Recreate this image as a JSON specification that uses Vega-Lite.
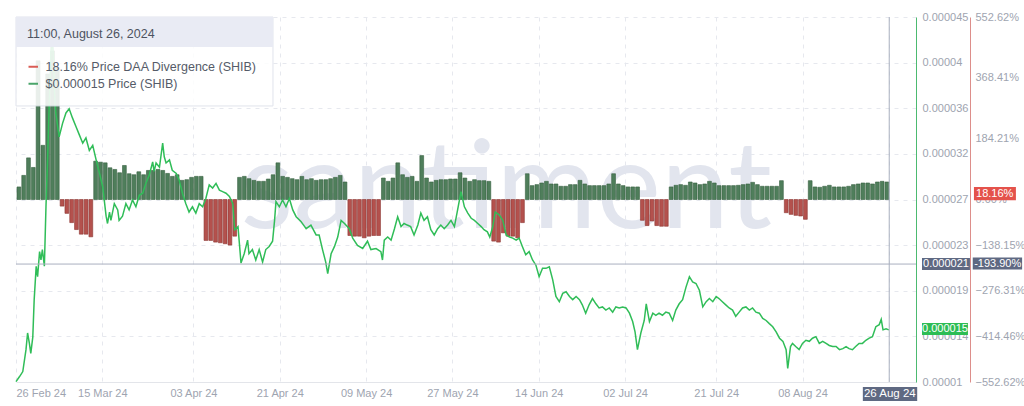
{
  "$schema": "https://vega.github.io/schema/vega-lite/v6.json",
  "autosize": {"type": "none"},
  "width": 900,
  "height": 365,
  "padding": {"left": 16, "top": 17, "right": 108, "bottom": 24},
  "background": "#ffffff",
  "config": {
    "view": {"stroke": null},
    "font": "Liberation Sans",
    "axis": {"labelFont": "Liberation Sans", "labelFontSize": 11, "labelColor": "#9ea4b0", "ticks": false, "gridColor": "#e6e8ee", "gridDash": [4, 5], "gridWidth": 1, "labelOverlap": false}
  },
  "datasets": {
    "divergence": [
      {"date": "2024-02-26T00:00", "v": 38}, {"date": "2024-02-27T00:00", "v": 73}, {"date": "2024-02-28T00:00", "v": 126}, {"date": "2024-02-29T00:00", "v": 97},
      {"date": "2024-03-01T00:00", "v": 420}, {"date": "2024-03-02T00:00", "v": 164}, {"date": "2024-03-03T00:00", "v": 380}, {"date": "2024-03-04T00:00", "v": 450},
      {"date": "2024-03-05T00:00", "v": 400}, {"date": "2024-03-06T00:00", "v": -20}, {"date": "2024-03-07T00:00", "v": -42}, {"date": "2024-03-08T00:00", "v": -70},
      {"date": "2024-03-09T00:00", "v": -91}, {"date": "2024-03-10T00:00", "v": -105}, {"date": "2024-03-11T00:00", "v": -105}, {"date": "2024-03-12T00:00", "v": -113},
      {"date": "2024-03-13T00:00", "v": 116}, {"date": "2024-03-14T00:00", "v": 113}, {"date": "2024-03-15T00:00", "v": 111}, {"date": "2024-03-16T00:00", "v": 96},
      {"date": "2024-03-17T00:00", "v": 91}, {"date": "2024-03-18T00:00", "v": 81}, {"date": "2024-03-19T00:00", "v": 103}, {"date": "2024-03-20T00:00", "v": 78},
      {"date": "2024-03-21T00:00", "v": 75}, {"date": "2024-03-22T00:00", "v": 84}, {"date": "2024-03-23T00:00", "v": 75}, {"date": "2024-03-24T00:00", "v": 88},
      {"date": "2024-03-25T00:00", "v": 88}, {"date": "2024-03-26T00:00", "v": 91}, {"date": "2024-03-27T00:00", "v": 88}, {"date": "2024-03-28T00:00", "v": 79},
      {"date": "2024-03-29T00:00", "v": 70}, {"date": "2024-03-30T00:00", "v": 75}, {"date": "2024-03-31T00:00", "v": 58}, {"date": "2024-04-01T00:00", "v": 60},
      {"date": "2024-04-02T00:00", "v": 67}, {"date": "2024-04-03T00:00", "v": 70}, {"date": "2024-04-04T00:00", "v": 70}, {"date": "2024-04-05T00:00", "v": -124},
      {"date": "2024-04-06T00:00", "v": -124}, {"date": "2024-04-07T00:00", "v": -129}, {"date": "2024-04-08T00:00", "v": -131}, {"date": "2024-04-09T00:00", "v": -134},
      {"date": "2024-04-10T00:00", "v": -138}, {"date": "2024-04-11T00:00", "v": -111}, {"date": "2024-04-12T00:00", "v": 67}, {"date": "2024-04-13T00:00", "v": 70},
      {"date": "2024-04-14T00:00", "v": 63}, {"date": "2024-04-15T00:00", "v": 58}, {"date": "2024-04-16T00:00", "v": 55}, {"date": "2024-04-17T00:00", "v": 55},
      {"date": "2024-04-18T00:00", "v": 62}, {"date": "2024-04-19T00:00", "v": 75}, {"date": "2024-04-20T00:00", "v": 111}, {"date": "2024-04-21T00:00", "v": 70},
      {"date": "2024-04-22T00:00", "v": 67}, {"date": "2024-04-23T00:00", "v": 63}, {"date": "2024-04-24T00:00", "v": 60}, {"date": "2024-04-25T00:00", "v": 70},
      {"date": "2024-04-26T00:00", "v": 60}, {"date": "2024-04-27T00:00", "v": 63}, {"date": "2024-04-28T00:00", "v": 58}, {"date": "2024-04-29T00:00", "v": 60},
      {"date": "2024-04-30T00:00", "v": 60}, {"date": "2024-05-01T00:00", "v": 63}, {"date": "2024-05-02T00:00", "v": 67}, {"date": "2024-05-03T00:00", "v": 73},
      {"date": "2024-05-04T00:00", "v": 53}, {"date": "2024-05-05T00:00", "v": -109}, {"date": "2024-05-06T00:00", "v": -111}, {"date": "2024-05-07T00:00", "v": -111},
      {"date": "2024-05-08T00:00", "v": -116}, {"date": "2024-05-09T00:00", "v": -111}, {"date": "2024-05-10T00:00", "v": -109}, {"date": "2024-05-11T00:00", "v": -109},
      {"date": "2024-05-12T00:00", "v": 65}, {"date": "2024-05-13T00:00", "v": 55}, {"date": "2024-05-14T00:00", "v": 65}, {"date": "2024-05-15T00:00", "v": 111},
      {"date": "2024-05-16T00:00", "v": 75}, {"date": "2024-05-17T00:00", "v": 67}, {"date": "2024-05-18T00:00", "v": 70}, {"date": "2024-05-19T00:00", "v": 55},
      {"date": "2024-05-20T00:00", "v": 133}, {"date": "2024-05-21T00:00", "v": 65}, {"date": "2024-05-22T00:00", "v": 53}, {"date": "2024-05-23T00:00", "v": 58},
      {"date": "2024-05-24T00:00", "v": 60}, {"date": "2024-05-25T00:00", "v": 60}, {"date": "2024-05-26T00:00", "v": 62}, {"date": "2024-05-27T00:00", "v": 62},
      {"date": "2024-05-28T00:00", "v": 81}, {"date": "2024-05-29T00:00", "v": 65}, {"date": "2024-05-30T00:00", "v": 55}, {"date": "2024-05-31T00:00", "v": 60},
      {"date": "2024-06-01T00:00", "v": 57}, {"date": "2024-06-02T00:00", "v": 57}, {"date": "2024-06-03T00:00", "v": 55}, {"date": "2024-06-04T00:00", "v": -126},
      {"date": "2024-06-05T00:00", "v": -129}, {"date": "2024-06-06T00:00", "v": -101}, {"date": "2024-06-07T00:00", "v": -111}, {"date": "2024-06-08T00:00", "v": -111},
      {"date": "2024-06-09T00:00", "v": -116}, {"date": "2024-06-10T00:00", "v": -70}, {"date": "2024-06-11T00:00", "v": 78}, {"date": "2024-06-12T00:00", "v": 42},
      {"date": "2024-06-13T00:00", "v": 45}, {"date": "2024-06-14T00:00", "v": 50}, {"date": "2024-06-15T00:00", "v": 55}, {"date": "2024-06-16T00:00", "v": 47},
      {"date": "2024-06-17T00:00", "v": 47}, {"date": "2024-06-18T00:00", "v": 40}, {"date": "2024-06-19T00:00", "v": 40}, {"date": "2024-06-20T00:00", "v": 45},
      {"date": "2024-06-21T00:00", "v": 45}, {"date": "2024-06-22T00:00", "v": 58}, {"date": "2024-06-23T00:00", "v": 47}, {"date": "2024-06-24T00:00", "v": 42},
      {"date": "2024-06-25T00:00", "v": 42}, {"date": "2024-06-26T00:00", "v": 42}, {"date": "2024-06-27T00:00", "v": 42}, {"date": "2024-06-28T00:00", "v": 47},
      {"date": "2024-06-29T00:00", "v": 78}, {"date": "2024-06-30T00:00", "v": 47}, {"date": "2024-07-01T00:00", "v": 42}, {"date": "2024-07-02T00:00", "v": 38},
      {"date": "2024-07-03T00:00", "v": 38}, {"date": "2024-07-04T00:00", "v": 38}, {"date": "2024-07-05T00:00", "v": -63}, {"date": "2024-07-06T00:00", "v": -79},
      {"date": "2024-07-07T00:00", "v": -65}, {"date": "2024-07-08T00:00", "v": -79}, {"date": "2024-07-09T00:00", "v": -81}, {"date": "2024-07-10T00:00", "v": -81},
      {"date": "2024-07-11T00:00", "v": 38}, {"date": "2024-07-12T00:00", "v": 43}, {"date": "2024-07-13T00:00", "v": 45}, {"date": "2024-07-14T00:00", "v": 43},
      {"date": "2024-07-15T00:00", "v": 53}, {"date": "2024-07-16T00:00", "v": 50}, {"date": "2024-07-17T00:00", "v": 45}, {"date": "2024-07-18T00:00", "v": 47},
      {"date": "2024-07-19T00:00", "v": 55}, {"date": "2024-07-20T00:00", "v": 50}, {"date": "2024-07-21T00:00", "v": 42}, {"date": "2024-07-22T00:00", "v": 42},
      {"date": "2024-07-23T00:00", "v": 42}, {"date": "2024-07-24T00:00", "v": 42}, {"date": "2024-07-25T00:00", "v": 43}, {"date": "2024-07-26T00:00", "v": 45},
      {"date": "2024-07-27T00:00", "v": 47}, {"date": "2024-07-28T00:00", "v": 52}, {"date": "2024-07-29T00:00", "v": 45}, {"date": "2024-07-30T00:00", "v": 40},
      {"date": "2024-07-31T00:00", "v": 40}, {"date": "2024-08-01T00:00", "v": 40}, {"date": "2024-08-02T00:00", "v": 40}, {"date": "2024-08-03T00:00", "v": 57},
      {"date": "2024-08-04T00:00", "v": -40}, {"date": "2024-08-05T00:00", "v": -45}, {"date": "2024-08-06T00:00", "v": -48}, {"date": "2024-08-07T00:00", "v": -50},
      {"date": "2024-08-08T00:00", "v": -60}, {"date": "2024-08-09T00:00", "v": 57}, {"date": "2024-08-10T00:00", "v": 38}, {"date": "2024-08-11T00:00", "v": 37},
      {"date": "2024-08-12T00:00", "v": 40}, {"date": "2024-08-13T00:00", "v": 43}, {"date": "2024-08-14T00:00", "v": 38}, {"date": "2024-08-15T00:00", "v": 38},
      {"date": "2024-08-16T00:00", "v": 38}, {"date": "2024-08-17T00:00", "v": 40}, {"date": "2024-08-18T00:00", "v": 45}, {"date": "2024-08-19T00:00", "v": 47},
      {"date": "2024-08-20T00:00", "v": 50}, {"date": "2024-08-21T00:00", "v": 50}, {"date": "2024-08-22T00:00", "v": 47}, {"date": "2024-08-23T00:00", "v": 53},
      {"date": "2024-08-24T00:00", "v": 55}, {"date": "2024-08-25T00:00", "v": 53}
    ],
    "price": [
      {"t": "2024-02-26T00:00", "p": 0.00001003}, {"t": "2024-02-26T17:00", "p": 0.0000105}, {"t": "2024-02-27T10:00", "p": 0.000011}, {"t": "2024-02-28T02:00", "p": 0.0000131},
      {"t": "2024-02-28T10:00", "p": 0.0000147}, {"t": "2024-02-28T19:00", "p": 0.0000137}, {"t": "2024-02-29T02:00", "p": 0.00001275}, {"t": "2024-02-29T12:00", "p": 0.0000143},
      {"t": "2024-02-29T19:00", "p": 0.0000179}, {"t": "2024-03-01T05:00", "p": 0.0000211}, {"t": "2024-03-01T12:00", "p": 0.0000201}, {"t": "2024-03-01T22:00", "p": 0.0000225},
      {"t": "2024-03-02T05:00", "p": 0.0000217}, {"t": "2024-03-02T12:00", "p": 0.0000227}, {"t": "2024-03-02T22:00", "p": 0.0000211}, {"t": "2024-03-03T06:00", "p": 0.0000268},
      {"t": "2024-03-03T14:00", "p": 0.0000313}, {"t": "2024-03-03T22:00", "p": 0.0000364}, {"t": "2024-03-04T05:00", "p": 0.0000405}, {"t": "2024-03-04T12:00", "p": 0.000044},
      {"t": "2024-03-04T19:00", "p": 0.000041}, {"t": "2024-03-05T00:00", "p": 0.000038}, {"t": "2024-03-05T07:00", "p": 0.0000358}, {"t": "2024-03-06T00:00", "p": 0.0000335},
      {"t": "2024-03-06T17:00", "p": 0.0000348}, {"t": "2024-03-07T10:00", "p": 0.0000358}, {"t": "2024-03-08T02:00", "p": 0.0000362}, {"t": "2024-03-08T19:00", "p": 0.0000353},
      {"t": "2024-03-09T12:00", "p": 0.0000345}, {"t": "2024-03-10T05:00", "p": 0.0000337}, {"t": "2024-03-10T22:00", "p": 0.0000329}, {"t": "2024-03-11T14:00", "p": 0.0000334},
      {"t": "2024-03-12T07:00", "p": 0.0000322}, {"t": "2024-03-13T00:00", "p": 0.0000327}, {"t": "2024-03-13T17:00", "p": 0.0000313}, {"t": "2024-03-14T10:00", "p": 0.00003},
      {"t": "2024-03-15T02:00", "p": 0.0000287}, {"t": "2024-03-15T19:00", "p": 0.0000259}, {"t": "2024-03-16T02:00", "p": 0.0000252}, {"t": "2024-03-16T12:00", "p": 0.0000263},
      {"t": "2024-03-16T19:00", "p": 0.0000255}, {"t": "2024-03-17T12:00", "p": 0.0000271}, {"t": "2024-03-18T05:00", "p": 0.0000265}, {"t": "2024-03-18T12:00", "p": 0.0000255},
      {"t": "2024-03-19T05:00", "p": 0.0000259}, {"t": "2024-03-19T22:00", "p": 0.0000271}, {"t": "2024-03-20T14:00", "p": 0.0000265}, {"t": "2024-03-21T07:00", "p": 0.00002745},
      {"t": "2024-03-22T00:00", "p": 0.0000268}, {"t": "2024-03-22T17:00", "p": 0.0000279}, {"t": "2024-03-23T10:00", "p": 0.0000281}, {"t": "2024-03-24T02:00", "p": 0.00002905},
      {"t": "2024-03-24T19:00", "p": 0.00002985}, {"t": "2024-03-25T12:00", "p": 0.0000311}, {"t": "2024-03-25T19:00", "p": 0.0000302}, {"t": "2024-03-26T05:00", "p": 0.000031},
      {"t": "2024-03-26T22:00", "p": 0.0000306}, {"t": "2024-03-27T14:00", "p": 0.0000329}, {"t": "2024-03-27T22:00", "p": 0.0000316}, {"t": "2024-03-28T07:00", "p": 0.000031},
      {"t": "2024-03-29T00:00", "p": 0.0000313}, {"t": "2024-03-29T14:00", "p": 0.0000303}, {"t": "2024-03-30T10:00", "p": 0.00003}, {"t": "2024-03-31T00:00", "p": 0.0000294},
      {"t": "2024-03-31T17:00", "p": 0.0000281}, {"t": "2024-04-01T10:00", "p": 0.0000271}, {"t": "2024-04-02T02:00", "p": 0.0000263}, {"t": "2024-04-02T19:00", "p": 0.0000268},
      {"t": "2024-04-03T12:00", "p": 0.0000262}, {"t": "2024-04-04T05:00", "p": 0.0000271}, {"t": "2024-04-04T22:00", "p": 0.0000268}, {"t": "2024-04-05T14:00", "p": 0.0000276},
      {"t": "2024-04-06T07:00", "p": 0.0000289}, {"t": "2024-04-07T00:00", "p": 0.0000286}, {"t": "2024-04-07T17:00", "p": 0.00002905}, {"t": "2024-04-08T10:00", "p": 0.0000284},
      {"t": "2024-04-09T02:00", "p": 0.00002825}, {"t": "2024-04-09T19:00", "p": 0.0000281}, {"t": "2024-04-10T12:00", "p": 0.0000278}, {"t": "2024-04-11T05:00", "p": 0.0000271},
      {"t": "2024-04-11T14:00", "p": 0.0000246}, {"t": "2024-04-12T07:00", "p": 0.0000249}, {"t": "2024-04-12T22:00", "p": 0.0000214}, {"t": "2024-04-13T14:00", "p": 0.0000223},
      {"t": "2024-04-14T07:00", "p": 0.0000236}, {"t": "2024-04-14T14:00", "p": 0.0000223}, {"t": "2024-04-15T07:00", "p": 0.0000227}, {"t": "2024-04-16T00:00", "p": 0.0000217},
      {"t": "2024-04-16T17:00", "p": 0.0000227}, {"t": "2024-04-17T10:00", "p": 0.0000215}, {"t": "2024-04-18T02:00", "p": 0.0000227}, {"t": "2024-04-18T19:00", "p": 0.000023},
      {"t": "2024-04-19T12:00", "p": 0.0000235}, {"t": "2024-04-19T22:00", "p": 0.0000255}, {"t": "2024-04-20T05:00", "p": 0.0000273}, {"t": "2024-04-20T22:00", "p": 0.0000268},
      {"t": "2024-04-21T14:00", "p": 0.00002745}, {"t": "2024-04-22T07:00", "p": 0.0000268}, {"t": "2024-04-23T00:00", "p": 0.0000276}, {"t": "2024-04-23T17:00", "p": 0.0000265},
      {"t": "2024-04-24T10:00", "p": 0.00002585}, {"t": "2024-04-25T10:00", "p": 0.0000254}, {"t": "2024-04-26T12:00", "p": 0.0000247}, {"t": "2024-04-27T12:00", "p": 0.00002505},
      {"t": "2024-04-28T14:00", "p": 0.0000241}, {"t": "2024-04-29T05:00", "p": 0.0000241}, {"t": "2024-04-29T22:00", "p": 0.0000227}, {"t": "2024-04-30T14:00", "p": 0.0000215},
      {"t": "2024-05-01T00:00", "p": 0.0000204}, {"t": "2024-05-01T17:00", "p": 0.0000223}, {"t": "2024-05-02T10:00", "p": 0.000023}, {"t": "2024-05-03T02:00", "p": 0.0000239},
      {"t": "2024-05-03T19:00", "p": 0.0000255}, {"t": "2024-05-04T12:00", "p": 0.0000252}, {"t": "2024-05-05T12:00", "p": 0.0000247}, {"t": "2024-05-06T05:00", "p": 0.0000238},
      {"t": "2024-05-07T05:00", "p": 0.0000231}, {"t": "2024-05-08T07:00", "p": 0.0000228}, {"t": "2024-05-09T07:00", "p": 0.0000235}, {"t": "2024-05-10T00:00", "p": 0.0000227},
      {"t": "2024-05-11T02:00", "p": 0.0000228}, {"t": "2024-05-12T02:00", "p": 0.0000225}, {"t": "2024-05-12T10:00", "p": 0.0000217}, {"t": "2024-05-12T19:00", "p": 0.0000236},
      {"t": "2024-05-13T12:00", "p": 0.0000239}, {"t": "2024-05-14T05:00", "p": 0.0000236}, {"t": "2024-05-14T22:00", "p": 0.0000247}, {"t": "2024-05-15T14:00", "p": 0.00002585},
      {"t": "2024-05-16T07:00", "p": 0.0000249}, {"t": "2024-05-16T22:00", "p": 0.0000252}, {"t": "2024-05-17T14:00", "p": 0.00002505}, {"t": "2024-05-18T07:00", "p": 0.0000249},
      {"t": "2024-05-19T00:00", "p": 0.0000241}, {"t": "2024-05-19T19:00", "p": 0.00002505}, {"t": "2024-05-20T10:00", "p": 0.0000262}, {"t": "2024-05-21T02:00", "p": 0.0000255},
      {"t": "2024-05-21T19:00", "p": 0.00002585}, {"t": "2024-05-22T12:00", "p": 0.0000246}, {"t": "2024-05-23T05:00", "p": 0.0000241}, {"t": "2024-05-23T22:00", "p": 0.0000247},
      {"t": "2024-05-24T14:00", "p": 0.00002505}, {"t": "2024-05-25T07:00", "p": 0.0000247}, {"t": "2024-05-26T00:00", "p": 0.00002505}, {"t": "2024-05-26T17:00", "p": 0.0000255},
      {"t": "2024-05-27T10:00", "p": 0.0000249}, {"t": "2024-05-28T02:00", "p": 0.0000265}, {"t": "2024-05-28T19:00", "p": 0.00002825}, {"t": "2024-05-29T12:00", "p": 0.0000268},
      {"t": "2024-05-30T05:00", "p": 0.0000262}, {"t": "2024-05-30T22:00", "p": 0.0000257}, {"t": "2024-05-31T14:00", "p": 0.0000255}, {"t": "2024-06-01T07:00", "p": 0.0000252},
      {"t": "2024-06-02T00:00", "p": 0.0000249}, {"t": "2024-06-02T14:00", "p": 0.0000246}, {"t": "2024-06-03T07:00", "p": 0.0000244}, {"t": "2024-06-03T19:00", "p": 0.0000239},
      {"t": "2024-06-04T10:00", "p": 0.0000249}, {"t": "2024-06-04T22:00", "p": 0.0000263}, {"t": "2024-06-05T19:00", "p": 0.000026}, {"t": "2024-06-06T12:00", "p": 0.0000255},
      {"t": "2024-06-07T05:00", "p": 0.0000241}, {"t": "2024-06-07T22:00", "p": 0.0000239}, {"t": "2024-06-08T14:00", "p": 0.0000238}, {"t": "2024-06-09T07:00", "p": 0.0000236},
      {"t": "2024-06-09T22:00", "p": 0.0000238}, {"t": "2024-06-10T14:00", "p": 0.000023}, {"t": "2024-06-11T07:00", "p": 0.0000222}, {"t": "2024-06-12T00:00", "p": 0.0000225},
      {"t": "2024-06-12T17:00", "p": 0.0000217}, {"t": "2024-06-13T10:00", "p": 0.0000212}, {"t": "2024-06-14T02:00", "p": 0.0000201}, {"t": "2024-06-14T19:00", "p": 0.0000209},
      {"t": "2024-06-15T12:00", "p": 0.0000209}, {"t": "2024-06-16T05:00", "p": 0.00002105}, {"t": "2024-06-16T22:00", "p": 0.0000198}, {"t": "2024-06-17T14:00", "p": 0.0000182},
      {"t": "2024-06-18T07:00", "p": 0.0000177}, {"t": "2024-06-19T00:00", "p": 0.0000185}, {"t": "2024-06-19T17:00", "p": 0.00001865}, {"t": "2024-06-20T10:00", "p": 0.0000182},
      {"t": "2024-06-21T02:00", "p": 0.0000179}, {"t": "2024-06-21T19:00", "p": 0.0000182}, {"t": "2024-06-22T12:00", "p": 0.0000179}, {"t": "2024-06-23T02:00", "p": 0.0000174},
      {"t": "2024-06-23T19:00", "p": 0.0000166}, {"t": "2024-06-24T12:00", "p": 0.0000174}, {"t": "2024-06-25T05:00", "p": 0.000018}, {"t": "2024-06-25T22:00", "p": 0.0000175},
      {"t": "2024-06-26T14:00", "p": 0.0000171}, {"t": "2024-06-27T07:00", "p": 0.0000172}, {"t": "2024-06-28T00:00", "p": 0.0000169}, {"t": "2024-06-28T17:00", "p": 0.0000171},
      {"t": "2024-06-29T10:00", "p": 0.0000167}, {"t": "2024-06-30T02:00", "p": 0.0000172}, {"t": "2024-06-30T19:00", "p": 0.0000171}, {"t": "2024-07-01T12:00", "p": 0.0000172},
      {"t": "2024-07-02T05:00", "p": 0.0000171}, {"t": "2024-07-02T22:00", "p": 0.0000166}, {"t": "2024-07-03T14:00", "p": 0.0000158}, {"t": "2024-07-04T02:00", "p": 0.0000148},
      {"t": "2024-07-04T14:00", "p": 0.0000131}, {"t": "2024-07-05T07:00", "p": 0.0000147}, {"t": "2024-07-06T00:00", "p": 0.0000159}, {"t": "2024-07-06T10:00", "p": 0.0000175},
      {"t": "2024-07-07T02:00", "p": 0.0000158}, {"t": "2024-07-07T19:00", "p": 0.0000166}, {"t": "2024-07-08T10:00", "p": 0.0000164}, {"t": "2024-07-09T02:00", "p": 0.0000166},
      {"t": "2024-07-09T19:00", "p": 0.0000164}, {"t": "2024-07-10T12:00", "p": 0.0000167}, {"t": "2024-07-11T05:00", "p": 0.0000166}, {"t": "2024-07-11T22:00", "p": 0.0000159},
      {"t": "2024-07-12T14:00", "p": 0.0000169}, {"t": "2024-07-13T07:00", "p": 0.0000175}, {"t": "2024-07-14T00:00", "p": 0.0000179}, {"t": "2024-07-14T17:00", "p": 0.0000191},
      {"t": "2024-07-15T10:00", "p": 0.0000201}, {"t": "2024-07-16T02:00", "p": 0.0000196}, {"t": "2024-07-16T19:00", "p": 0.00001945}, {"t": "2024-07-17T12:00", "p": 0.0000188},
      {"t": "2024-07-18T05:00", "p": 0.0000172}, {"t": "2024-07-18T22:00", "p": 0.0000177}, {"t": "2024-07-19T14:00", "p": 0.000018}, {"t": "2024-07-20T07:00", "p": 0.0000177},
      {"t": "2024-07-21T00:00", "p": 0.0000182}, {"t": "2024-07-21T14:00", "p": 0.000018}, {"t": "2024-07-22T07:00", "p": 0.0000177}, {"t": "2024-07-23T00:00", "p": 0.0000174},
      {"t": "2024-07-23T17:00", "p": 0.0000171}, {"t": "2024-07-24T10:00", "p": 0.0000169}, {"t": "2024-07-25T02:00", "p": 0.0000163}, {"t": "2024-07-25T19:00", "p": 0.0000167},
      {"t": "2024-07-26T12:00", "p": 0.0000171}, {"t": "2024-07-27T05:00", "p": 0.0000172}, {"t": "2024-07-27T22:00", "p": 0.0000169}, {"t": "2024-07-28T14:00", "p": 0.0000171},
      {"t": "2024-07-29T07:00", "p": 0.0000167}, {"t": "2024-07-30T00:00", "p": 0.0000166}, {"t": "2024-07-30T17:00", "p": 0.0000161}, {"t": "2024-07-31T10:00", "p": 0.0000159},
      {"t": "2024-08-01T02:00", "p": 0.0000156}, {"t": "2024-08-01T19:00", "p": 0.0000153}, {"t": "2024-08-02T12:00", "p": 0.0000148}, {"t": "2024-08-03T05:00", "p": 0.0000142},
      {"t": "2024-08-03T22:00", "p": 0.0000139}, {"t": "2024-08-04T14:00", "p": 0.0000131}, {"t": "2024-08-04T22:00", "p": 0.0000113}, {"t": "2024-08-05T12:00", "p": 0.0000134},
      {"t": "2024-08-05T22:00", "p": 0.0000137}, {"t": "2024-08-06T14:00", "p": 0.0000134}, {"t": "2024-08-07T07:00", "p": 0.0000131}, {"t": "2024-08-08T00:00", "p": 0.0000137},
      {"t": "2024-08-08T17:00", "p": 0.000014}, {"t": "2024-08-09T10:00", "p": 0.0000139}, {"t": "2024-08-10T02:00", "p": 0.0000142}, {"t": "2024-08-10T19:00", "p": 0.00001435},
      {"t": "2024-08-11T12:00", "p": 0.0000137}, {"t": "2024-08-12T05:00", "p": 0.0000139}, {"t": "2024-08-12T22:00", "p": 0.0000137}, {"t": "2024-08-13T14:00", "p": 0.0000135},
      {"t": "2024-08-14T07:00", "p": 0.0000134}, {"t": "2024-08-15T00:00", "p": 0.0000134}, {"t": "2024-08-15T17:00", "p": 0.0000131}, {"t": "2024-08-16T10:00", "p": 0.0000132},
      {"t": "2024-08-17T02:00", "p": 0.0000134}, {"t": "2024-08-17T17:00", "p": 0.0000132}, {"t": "2024-08-18T10:00", "p": 0.0000131}, {"t": "2024-08-19T02:00", "p": 0.0000134},
      {"t": "2024-08-19T19:00", "p": 0.0000137}, {"t": "2024-08-20T12:00", "p": 0.0000137}, {"t": "2024-08-21T05:00", "p": 0.000014}, {"t": "2024-08-21T22:00", "p": 0.0000142},
      {"t": "2024-08-22T14:00", "p": 0.00001435}, {"t": "2024-08-23T07:00", "p": 0.0000153}, {"t": "2024-08-24T00:00", "p": 0.0000155}, {"t": "2024-08-24T10:00", "p": 0.000016},
      {"t": "2024-08-24T19:00", "p": 0.000015}, {"t": "2024-08-25T10:00", "p": 0.0000151}, {"t": "2024-08-26T00:00", "p": 0.000015}
    ],
    "series": [
      {"label": "18.16% Price DAA Divergence (SHIB)"},
      {"label": "$0.000015 Price (SHIB)"}
    ],
    "one": [{}]
  },
  "layer": [
    {
      "data": {"name": "one"},
      "mark": {"type": "text", "text": "santiment", "font": "Lato", "fontWeight": 400, "fontSize": 122, "color": "#e2e5ee", "align": "center", "baseline": "alphabetic"},
      "encoding": {
        "x": {"datum": {"year": 2024, "month": 6, "date": 7, "hours": 5}, "type": "temporal", "title": null, "scale": {"domain": [{"year": 2024, "month": 2, "date": 26}, {"year": 2024, "month": 8, "date": 31, "hours": 16}]}},
        "y": {"datum": 0.00002477, "type": "quantitative", "scale": {"domain": [0.00001, 0.000045]}, "axis": null}
      }
    },
    {
      "data": {"name": "divergence"},
      "mark": {"type": "bar", "strokeWidth": 0.6},
      "encoding": {
        "x": {
          "field": "date", "type": "temporal", "timeUnit": "yearmonthdate", "title": null,
          "scale": {"domain": [{"year": 2024, "month": 2, "date": 26}, {"year": 2024, "month": 8, "date": 31, "hours": 16}]},
          "axis": {
            "values": [
              {"year": 2024, "month": 2, "date": 26}, {"year": 2024, "month": 3, "date": 15}, {"year": 2024, "month": 4, "date": 3},
              {"year": 2024, "month": 4, "date": 21}, {"year": 2024, "month": 5, "date": 9}, {"year": 2024, "month": 5, "date": 27},
              {"year": 2024, "month": 6, "date": 14}, {"year": 2024, "month": 7, "date": 2}, {"year": 2024, "month": 7, "date": 21},
              {"year": 2024, "month": 8, "date": 8}, {"year": 2024, "month": 8, "date": 26}
            ],
            "format": "%d %b %y", "formatType": "time", "grid": true, "domain": true, "domainColor": "#e3e5ea", "labelPadding": 5, "labelFlush": true
          }
        },
        "y": {
          "field": "v", "type": "quantitative", "title": null,
          "scale": {"domain": [-552.62, 552.62]},
          "axis": {"orient": "right", "offset": 54, "values": [-552.62, -414.46, -276.31, -138.15, 0, 184.21, 368.41, 552.62], "labelExpr": "format(datum.value, '.2f') + '%'", "domain": true, "domainColor": "#dd8e8a", "grid": false, "labelPadding": 5}
        },
        "color": {"condition": {"test": "datum.v < 0", "value": "#b4514d"}, "value": "#4f7e5b"},
        "stroke": {"condition": {"test": "datum.v < 0", "value": "#8c3532"}, "value": "#35603f"}
      }
    },
    {
      "data": {"name": "price"},
      "mark": {"type": "line", "color": "#30bd58", "strokeWidth": 1.5},
      "encoding": {
        "x": {"field": "t", "type": "temporal", "title": null, "scale": {"domain": [{"year": 2024, "month": 2, "date": 26}, {"year": 2024, "month": 8, "date": 31, "hours": 16}]}},
        "y": {
          "field": "p", "type": "quantitative", "title": null,
          "scale": {"domain": [0.00001, 0.000045]},
          "axis": {
            "orient": "right", "offset": 0,
            "values": [0.00001, 0.000014375, 0.00001875, 0.000023125, 0.0000275, 0.000031875, 0.00003625, 0.000040625, 0.000045],
            "labelExpr": "datum.value < 0.000012 ? '0.00001' : datum.value < 0.000016 ? '0.000014' : datum.value < 0.00002 ? '0.000019' : datum.value < 0.000025 ? '0.000023' : datum.value < 0.00003 ? '0.000027' : datum.value < 0.000034 ? '0.000032' : datum.value < 0.000038 ? '0.000036' : datum.value < 0.000043 ? '0.00004' : '0.000045'",
            "grid": true, "domain": true, "domainColor": "#4cba70", "labelPadding": 6
          }
        }
      }
    },
    {
      "data": {"name": "one"},
      "mark": {"type": "rule", "color": "#a9b0bf", "strokeWidth": 1},
      "encoding": {
        "x": {"datum": {"year": 2024, "month": 8, "date": 26, "hours": 2}, "type": "temporal", "title": null, "scale": {"domain": [{"year": 2024, "month": 2, "date": 26}, {"year": 2024, "month": 8, "date": 31, "hours": 16}]}}
      }
    },
    {
      "data": {"name": "one"},
      "mark": {"type": "rule", "color": "#a9b0bf", "strokeWidth": 1},
      "encoding": {
        "y": {"datum": 0.00002131, "type": "quantitative", "scale": {"domain": [0.00001, 0.000045]}, "axis": null}
      }
    },
    {
      "data": {"name": "one"},
      "mark": {"type": "rect", "color": "#ffffff", "opacity": 0.88, "stroke": "#dde1ea", "strokeWidth": 1},
      "encoding": {
        "x": {"datum": {"year": 2024, "month": 2, "date": 26}, "type": "temporal", "title": null, "scale": {"domain": [{"year": 2024, "month": 2, "date": 26}, {"year": 2024, "month": 8, "date": 31, "hours": 16}]}},
        "x2": {"datum": {"year": 2024, "month": 4, "date": 19, "hours": 14}},
        "y": {"datum": 0.000045, "type": "quantitative", "scale": {"domain": [0.00001, 0.000045]}, "axis": null},
        "y2": {"datum": 0.00003647}
      }
    },
    {
      "data": {"name": "one"},
      "mark": {"type": "rect", "color": "#e9ebf4"},
      "encoding": {
        "x": {"datum": {"year": 2024, "month": 2, "date": 26}, "type": "temporal", "title": null, "scale": {"domain": [{"year": 2024, "month": 2, "date": 26}, {"year": 2024, "month": 8, "date": 31, "hours": 16}]}},
        "x2": {"datum": {"year": 2024, "month": 4, "date": 19, "hours": 14}},
        "y": {"datum": 0.000045, "type": "quantitative", "scale": {"domain": [0.00001, 0.000045]}, "axis": null},
        "y2": {"datum": 0.00004212}
      }
    },
    {
      "data": {"name": "one"},
      "mark": {"type": "rect", "color": "#e4524b"},
      "encoding": {
        "x": {"datum": {"year": 2024, "month": 9, "date": 12, "hours": 18}, "type": "temporal", "title": null, "scale": {"domain": [{"year": 2024, "month": 2, "date": 26}, {"year": 2024, "month": 8, "date": 31, "hours": 16}]}},
        "x2": {"datum": {"year": 2024, "month": 9, "date": 21, "hours": 12}},
        "y": {"datum": 38.2, "type": "quantitative", "scale": {"domain": [-552.62, 552.62]}, "axis": null},
        "y2": {"datum": -1.9}
      }
    },
    {
      "data": {"name": "one"},
      "mark": {"type": "text", "text": "18.16%", "color": "#ffffff", "fontSize": 11, "align": "center", "baseline": "middle"},
      "encoding": {
        "x": {"datum": {"year": 2024, "month": 9, "date": 17, "hours": 2}, "type": "temporal", "title": null, "scale": {"domain": [{"year": 2024, "month": 2, "date": 26}, {"year": 2024, "month": 8, "date": 31, "hours": 16}]}},
        "y": {"datum": 18.16, "type": "quantitative", "scale": {"domain": [-552.62, 552.62]}, "axis": null}
      }
    },
    {
      "data": {"name": "one"},
      "mark": {"type": "rect", "color": "#5f6982"},
      "encoding": {
        "x": {"datum": {"year": 2024, "month": 9, "date": 12, "hours": 12}, "type": "temporal", "title": null, "scale": {"domain": [{"year": 2024, "month": 2, "date": 26}, {"year": 2024, "month": 8, "date": 31, "hours": 16}]}},
        "x2": {"datum": {"year": 2024, "month": 9, "date": 22, "hours": 19}},
        "y": {"datum": -175.7, "type": "quantitative", "scale": {"domain": [-552.62, 552.62]}, "axis": null},
        "y2": {"datum": -212.1}
      }
    },
    {
      "data": {"name": "one"},
      "mark": {"type": "text", "text": "-193.90%", "color": "#ffffff", "fontSize": 11, "align": "center", "baseline": "middle"},
      "encoding": {
        "x": {"datum": {"year": 2024, "month": 9, "date": 17, "hours": 17}, "type": "temporal", "title": null, "scale": {"domain": [{"year": 2024, "month": 2, "date": 26}, {"year": 2024, "month": 8, "date": 31, "hours": 16}]}},
        "y": {"datum": -193.9, "type": "quantitative", "scale": {"domain": [-552.62, 552.62]}, "axis": null}
      }
    },
    {
      "data": {"name": "one"},
      "mark": {"type": "rect", "color": "#5f6982"},
      "encoding": {
        "x": {"datum": {"year": 2024, "month": 9, "date": 1, "hours": 22}, "type": "temporal", "title": null, "scale": {"domain": [{"year": 2024, "month": 2, "date": 26}, {"year": 2024, "month": 8, "date": 31, "hours": 16}]}},
        "x2": {"datum": {"year": 2024, "month": 9, "date": 11, "hours": 22}},
        "y": {"datum": 0.00002189, "type": "quantitative", "scale": {"domain": [0.00001, 0.000045]}, "axis": null},
        "y2": {"datum": 0.00002074}
      }
    },
    {
      "data": {"name": "one"},
      "mark": {"type": "text", "text": "0.000021", "color": "#ffffff", "fontSize": 11, "align": "center", "baseline": "middle"},
      "encoding": {
        "x": {"datum": {"year": 2024, "month": 9, "date": 6, "hours": 22}, "type": "temporal", "title": null, "scale": {"domain": [{"year": 2024, "month": 2, "date": 26}, {"year": 2024, "month": 8, "date": 31, "hours": 16}]}},
        "y": {"datum": 0.00002131, "type": "quantitative", "scale": {"domain": [0.00001, 0.000045]}, "axis": null}
      }
    },
    {
      "data": {"name": "one"},
      "mark": {"type": "rect", "color": "#2dbd54"},
      "encoding": {
        "x": {"datum": {"year": 2024, "month": 9, "date": 1, "hours": 22}, "type": "temporal", "title": null, "scale": {"domain": [{"year": 2024, "month": 2, "date": 26}, {"year": 2024, "month": 8, "date": 31, "hours": 16}]}},
        "x2": {"datum": {"year": 2024, "month": 9, "date": 11, "hours": 12}},
        "y": {"datum": 0.00001566, "type": "quantitative", "scale": {"domain": [0.00001, 0.000045]}, "axis": null},
        "y2": {"datum": 0.00001451}
      }
    },
    {
      "data": {"name": "one"},
      "mark": {"type": "text", "text": "0.000015", "color": "#ffffff", "fontSize": 11, "align": "center", "baseline": "middle"},
      "encoding": {
        "x": {"datum": {"year": 2024, "month": 9, "date": 6, "hours": 17}, "type": "temporal", "title": null, "scale": {"domain": [{"year": 2024, "month": 2, "date": 26}, {"year": 2024, "month": 8, "date": 31, "hours": 16}]}},
        "y": {"datum": 0.00001508, "type": "quantitative", "scale": {"domain": [0.00001, 0.000045]}, "axis": null}
      }
    },
    {
      "data": {"name": "one"},
      "mark": {"type": "rect", "color": "#5f6982"},
      "encoding": {
        "x": {"datum": {"year": 2024, "month": 8, "date": 20, "hours": 14}, "type": "temporal", "title": null, "scale": {"domain": [{"year": 2024, "month": 2, "date": 26}, {"year": 2024, "month": 8, "date": 31, "hours": 16}]}},
        "x2": {"datum": {"year": 2024, "month": 8, "date": 31, "hours": 22}},
        "y": {"datum": 0.00000952, "type": "quantitative", "scale": {"domain": [0.00001, 0.000045]}, "axis": null},
        "y2": {"datum": 0.00000818}
      }
    },
    {
      "data": {"name": "one"},
      "mark": {"type": "text", "text": "26 Aug 24", "color": "#ffffff", "fontSize": 11.5, "align": "center", "baseline": "middle"},
      "encoding": {
        "x": {"datum": {"year": 2024, "month": 8, "date": 26, "hours": 5}, "type": "temporal", "title": null, "scale": {"domain": [{"year": 2024, "month": 2, "date": 26}, {"year": 2024, "month": 8, "date": 31, "hours": 16}]}},
        "y": {"datum": 0.00000885, "type": "quantitative", "scale": {"domain": [0.00001, 0.000045]}, "axis": null}
      }
    },
    {
      "data": {"name": "series"},
      "mark": {"type": "point", "opacity": 0, "filled": false},
      "encoding": {
        "color": {
          "field": "label", "type": "nominal",
          "scale": {"domain": ["18.16% Price DAA Divergence (SHIB)", "$0.000015 Price (SHIB)"], "range": ["#d95c55", "#4aa56a"]},
          "legend": {
            "title": "11:00, August 26, 2024", "orient": "top-left", "offset": 0, "padding": 11,
            "titleFont": "Liberation Sans", "titleFontSize": 12.5, "titleFontWeight": 400, "titleColor": "#4d5361", "titlePadding": 20,
            "labelFont": "Liberation Sans", "labelFontSize": 12.5, "labelColor": "#555b68", "labelLimit": 400, "labelOffset": 6,
            "symbolType": "stroke", "symbolStrokeWidth": 2, "symbolSize": 90, "symbolOpacity": 1, "rowPadding": 4
          }
        }
      }
    }
  ],
  "resolve": {"scale": {"y": "independent"}}
}
